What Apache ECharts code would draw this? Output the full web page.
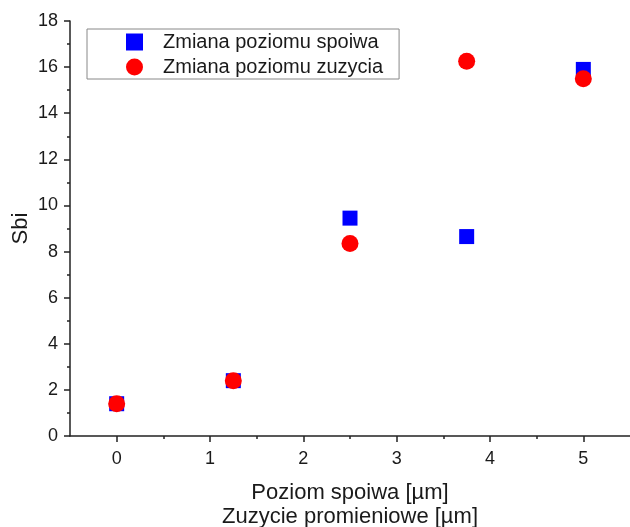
<!DOCTYPE html>
<html>
<head>
<meta charset="utf-8">
<script src="https://cdn.jsdelivr.net/npm/echarts@6/dist/echarts.min.js"></script>
<style>html,body{margin:0;padding:0;background:#fff}#c{width:630px;height:527px}</style>
</head>
<body>
<div id="c"></div>
<script>
const xPositions = [0, 1.25, 2.5, 3.75, 5];
const spoiwaValues = [1.4, 2.4, 9.45, 8.65, 15.9];
const zuzyciaValues = [1.4, 2.4, 8.35, 16.25, 15.5];
const xTickValues = [0, 1, 2, 3, 4, 5];
const xMinorTickValues = [0.5, 1.5, 2.5, 3.5, 4.5];
const seriesNames = ['Zmiana poziomu spoiwa', 'Zmiana poziomu zuzycia'];
const xTitle = 'Poziom spoiwa [µm]\nZuzycie promieniowe [µm]';
const yTitle = 'Sbi';

const FONT = 'Arial, "Liberation Sans", sans-serif';
const TXT = '#1a1a1a';
const AX = '#222';

const chart = echarts.init(document.getElementById('c'), null, {renderer: 'canvas'});
chart.setOption({
  animation: false,
  backgroundColor: '#fff',
  textStyle: {fontFamily: FONT, color: TXT},
  grid: {left: 70, right: 0, top: 21, bottom: 91, containLabel: false, outerBoundsMode: 'none'},
  legend: {
    orient: 'vertical',
    left: 87, top: 29,
    padding: [3, 16, 2, 39],
    itemGap: 5,
    itemWidth: 17, itemHeight: 17,
    borderColor: '#888', borderWidth: 1,
    backgroundColor: '#fff',
    textStyle: {fontFamily: FONT, fontSize: 20, color: TXT, lineHeight: 20, padding: [0, 0, 0, 15]},
    data: seriesNames
  },
  xAxis: [{
    type: 'value', min: -0.5, max: 5.5,
    name: xTitle, nameLocation: 'middle', nameGap: 45, nameMoveOverlap: false,
    nameTextStyle: {fontFamily: FONT, fontSize: 22, color: TXT, lineHeight: 24},
    splitLine: {show: false},
    axisLine: {show: true, onZero: false, lineStyle: {color: AX, width: 1.5}},
    axisTick: {show: true, customValues: xTickValues, length: 6, lineStyle: {color: AX, width: 1.5}},
    axisLabel: {customValues: xTickValues, margin: 14, fontSize: 18, color: TXT, fontFamily: FONT}
  }, {
    type: 'value', min: -0.5, max: 5.5, position: 'bottom', gridIndex: 0,
    splitLine: {show: false},
    axisLine: {show: false},
    axisTick: {show: true, customValues: xMinorTickValues, length: 3, lineStyle: {color: AX, width: 1.5}},
    axisLabel: {show: false}
  }],
  yAxis: {
    type: 'value', min: 0, max: 18, interval: 2,
    name: yTitle, nameLocation: 'middle', nameGap: 38, nameRotate: 90, nameMoveOverlap: false,
    nameTextStyle: {fontFamily: FONT, fontSize: 22, color: TXT},
    splitLine: {show: false},
    axisLine: {show: true, onZero: false, lineStyle: {color: AX, width: 1.5}},
    axisTick: {show: true, length: 6, lineStyle: {color: AX, width: 1.5}},
    minorTick: {show: true, splitNumber: 2, length: 3, lineStyle: {color: AX, width: 1.5}},
    axisLabel: {margin: 12, fontSize: 18, color: TXT, fontFamily: FONT}
  },
  series: [{
    name: seriesNames[0], type: 'scatter', symbol: 'rect', symbolSize: 15,
    itemStyle: {color: '#0000ff', opacity: 1},
    data: xPositions.map((x, i) => [x, spoiwaValues[i]]), z: 2
  }, {
    name: seriesNames[1], type: 'scatter', symbol: 'circle', symbolSize: 17,
    itemStyle: {color: '#ff0000', opacity: 1},
    data: xPositions.map((x, i) => [x, zuzyciaValues[i]]), z: 3
  }]
});
</script>
</body>
</html>
